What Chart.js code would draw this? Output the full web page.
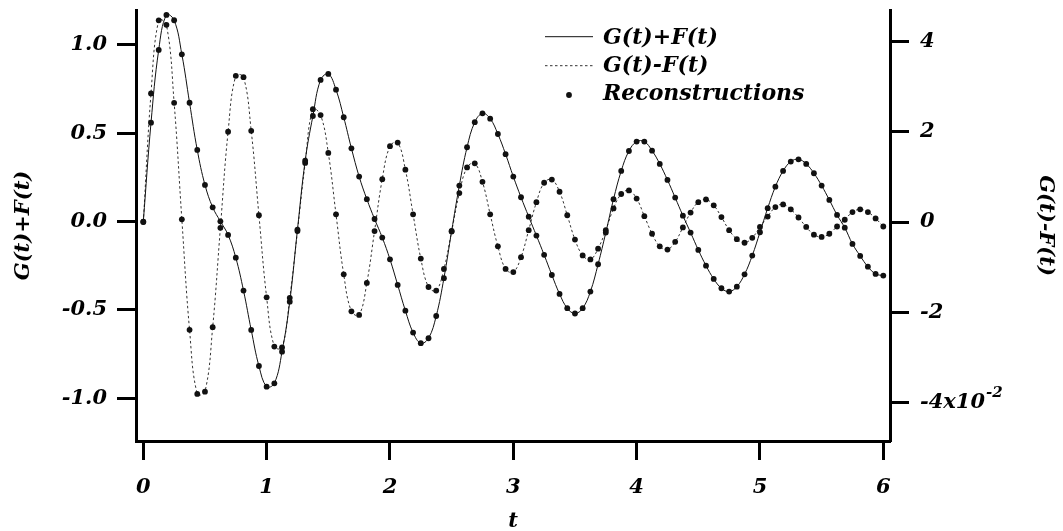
<!DOCTYPE html>
<html>
<head>
<meta charset="utf-8">
<script src="https://cdn.jsdelivr.net/npm/chart.js@4.4.0/dist/chart.umd.min.js"></script>
<style>
  html, body { margin: 0; padding: 0; background: #fff; }
</style>
</head>
<body>
<canvas id="grafico" width="1063" height="531"></canvas>
<script>
// tempos de amostragem (t)
const tempos = [
  0, 0.0625, 0.125, 0.1875, 0.25, 0.3125, 0.375, 0.4375,
  0.5, 0.5625, 0.625, 0.6875, 0.75, 0.8125, 0.875, 0.9375,
  1, 1.0625, 1.125, 1.1875, 1.25, 1.3125, 1.375, 1.4375,
  1.5, 1.5625, 1.625, 1.6875, 1.75, 1.8125, 1.875, 1.9375,
  2, 2.0625, 2.125, 2.1875, 2.25, 2.3125, 2.375, 2.4375,
  2.5, 2.5625, 2.625, 2.6875, 2.75, 2.8125, 2.875, 2.9375,
  3, 3.0625, 3.125, 3.1875, 3.25, 3.3125, 3.375, 3.4375,
  3.5, 3.5625, 3.625, 3.6875, 3.75, 3.8125, 3.875, 3.9375,
  4, 4.0625, 4.125, 4.1875, 4.25, 4.3125, 4.375, 4.4375,
  4.5, 4.5625, 4.625, 4.6875, 4.75, 4.8125, 4.875, 4.9375,
  5, 5.0625, 5.125, 5.1875, 5.25, 5.3125, 5.375, 5.4375,
  5.5, 5.5625, 5.625, 5.6875, 5.75, 5.8125, 5.875, 5.9375,
  6
];

// G(t)+F(t) (eixo esquerdo)
const somaGF = [
  0, 0.56, 0.972, 1.17, 1.14, 0.947, 0.673, 0.406,
  0.208, 0.081, 0.002, -0.075, -0.204, -0.390, -0.613, -0.817,
  -0.934, -0.915, -0.736, -0.453, -0.045, 0.345, 0.598, 0.802,
  0.836, 0.747, 0.591, 0.415, 0.255, 0.127, 0.015, -0.090,
  -0.213, -0.358, -0.504, -0.628, -0.688, -0.660, -0.534, -0.320,
  -0.053, 0.204, 0.421, 0.563, 0.613, 0.583, 0.496, 0.382,
  0.255, 0.138, 0.028, -0.079, -0.188, -0.302, -0.409, -0.490,
  -0.520, -0.490, -0.396, -0.241, -0.062, 0.127, 0.287, 0.400,
  0.453, 0.453, 0.402, 0.327, 0.236, 0.136, 0.034, -0.062,
  -0.160, -0.249, -0.324, -0.377, -0.396, -0.368, -0.298, -0.192,
  -0.060, 0.076, 0.198, 0.287, 0.340, 0.353, 0.327, 0.274,
  0.204, 0.123, 0.038, -0.034, -0.126, -0.194, -0.255, -0.296,
  -0.305
];

// G(t)-F(t) (eixo direito)
const difGF = [
  0, 0.0285, 0.0447, 0.0437, 0.0264, 0.0006, -0.0239, -0.0381,
  -0.0376, -0.0233, -0.0013, 0.0200, 0.0324, 0.0321, 0.0202, 0.0015,
  -0.0167, -0.0276, -0.0278, -0.0168, -0.0020, 0.0131, 0.0250, 0.0237,
  0.0153, 0.0017, -0.0116, -0.0198, -0.0206, -0.0135, -0.0020, 0.0095,
  0.0168, 0.0176, 0.0116, 0.0017, -0.0081, -0.0144, -0.0152, -0.0104,
  -0.0021, 0.0064, 0.0121, 0.0130, 0.0089, 0.0017, -0.0054, -0.0104,
  -0.0111, -0.0078, -0.0018, 0.0044, 0.0087, 0.0094, 0.0067, 0.0015,
  -0.0039, -0.0074, -0.0083, -0.0059, -0.0018, 0.0030, 0.0062, 0.0070,
  0.0052, 0.0013, -0.0026, -0.0054, -0.0061, -0.0044, -0.0012, 0.0021,
  0.0044, 0.0050, 0.0037, 0.0011, -0.0018, -0.0038, -0.0046, -0.0035,
  -0.0011, 0.0012, 0.0033, 0.0039, 0.0028, 0.0010, -0.0011, -0.0028,
  -0.0033, -0.0026, -0.0010, 0.0005, 0.0022, 0.0028, 0.0022, 0.0008,
  -0.0010
];

const ticksT = [0, 1, 2, 3, 4, 5, 6];
const ticksSoma = [-1, -0.5, 0, 0.5, 1];
const ticksDif = [-0.04, -0.02, 0, 0.02, 0.04];
const rotulosDif = ['-4x10', '-2', '0', '2', '4'];
const expoenteDif = '-2';
const nomes = ['G(t)+F(t)', 'G(t)-F(t)', 'Reconstructions'];

const pontos = (ys) => tempos.map((t, i) => ({x: t, y: ys[i]}));

const familia = "'DejaVu Serif', serif";
const fonte = (size) => ({ family: familia, style: 'italic', weight: 'bold', size: size });

const eixo = {
    border: { display: true, color: '#000', width: 3 },
    grid: { display: true, drawOnChartArea: false, drawTicks: true, tickLength: 19, tickWidth: 3, tickColor: '#000' }
};

// sem folga extra em volta dos eixos
const semFolga = (s) => { s.paddingTop = 0; s.paddingBottom = 0; s.paddingLeft = 0; s.paddingRight = 0; };

// legenda desenhada dentro da area do grafico + expoente do eixo direito
const legenda = {
    id: 'legenda',
    afterDraw(chart) {
        const c = chart.ctx;
        const a = chart.chartArea;
        const x0 = a.left + 409;
        const xt = a.left + 467;
        const linhas = [a.top + 26.7, a.top + 55.7, a.top + 85];
        const bases = [a.top + 33.5, a.top + 61.7, a.top + 90];
        c.save();
        c.strokeStyle = '#111';
        c.lineWidth = 1;
        c.beginPath(); c.moveTo(x0, linhas[0]); c.lineTo(x0 + 48, linhas[0]); c.stroke();
        c.strokeStyle = '#333';
        c.setLineDash([2.5, 2.5]);
        c.beginPath(); c.moveTo(x0, linhas[1]); c.lineTo(x0 + 48, linhas[1]); c.stroke();
        c.setLineDash([]);
        c.fillStyle = '#111';
        c.beginPath(); c.arc(x0 + 24, linhas[2], 2.9, 0, Math.PI * 2); c.fill();
        c.font = "italic bold 22px " + familia;
        c.textBaseline = 'alphabetic';
        c.textAlign = 'left';
        c.fillStyle = '#000';
        nomes.forEach((n, i) => c.fillText(n, xt, bases[i]));

        // expoente "-2" ao lado de "-4x10"
        const s = chart.scales.y2;
        c.font = "italic bold 21px " + familia;
        const w = c.measureText(rotulosDif[0]).width;
        const xe = s.left + 19 + 11 + w + 1;
        const ye = s.getPixelForValue(ticksDif[0]) - 6;
        c.font = "italic bold 15px " + familia;
        c.fillText(expoenteDif, xe, ye);
        c.restore();
    }
};

const ctx = document.getElementById('grafico');

new Chart(ctx, {
    type: 'line',
    data: {
        datasets: [
            { label: nomes[2], data: pontos(somaGF), yAxisID: 'y', showLine: false, pointRadius: 2.9,
              pointBackgroundColor: '#111', pointBorderWidth: 0, order: 0 },
            { label: nomes[2], data: pontos(difGF), yAxisID: 'y2', showLine: false, pointRadius: 2.9,
              pointBackgroundColor: '#111', pointBorderWidth: 0, order: 0 },
            { label: nomes[0], data: pontos(somaGF), yAxisID: 'y', borderColor: '#111', borderWidth: 1,
              pointRadius: 0, tension: 0.4, fill: false, order: 1 },
            { label: nomes[1], data: pontos(difGF), yAxisID: 'y2', borderColor: '#333', borderWidth: 1,
              borderDash: [2.5, 2.5], pointRadius: 0, tension: 0.4, fill: false, order: 1 }
        ]
    },
    options: {
        responsive: false,
        animation: false,
        layout: { padding: { top: 10, left: 0, right: 0, bottom: 0 } },
        plugins: { legend: { display: false }, tooltip: { enabled: false } },
        scales: {
            x: {
                type: 'linear', position: 'bottom', min: -0.0592, max: 6.0543,
                ...eixo,
                afterBuildTicks: (s) => { s.ticks = ticksT.map(v => ({value: v})); },
                afterFit: (s) => { s.height = 90; semFolga(s); },
                ticks: { autoSkip: false, maxRotation: 0, padding: 15, color: '#000', font: fonte(21),
                         callback: (v) => String(v) },
                title: { display: true, text: 't', color: '#000', font: fonte(21), padding: { top: 0, bottom: -3 } }
            },
            y: {
                type: 'linear', position: 'left', min: -1.2416, max: 1.198,
                ...eixo,
                afterBuildTicks: (s) => { s.ticks = ticksSoma.map(v => ({value: v})); },
                afterFit: (s) => { s.width = 136; semFolga(s); },
                ticks: { autoSkip: false, padding: 10, color: '#000', font: fonte(21),
                         callback: (v) => v.toFixed(1) },
                title: { display: true, text: 'G(t)+F(t)', color: '#000', font: fonte(21), padding: { top: 11, bottom: 0 } }
            },
            y2: {
                type: 'linear', position: 'right', min: -0.04853, max: 0.04698,
                ...eixo,
                afterBuildTicks: (s) => { s.ticks = ticksDif.map(v => ({value: v})); },
                afterFit: (s) => { s.width = 173; semFolga(s); },
                ticks: { autoSkip: false, padding: 11, color: '#000', font: fonte(21),
                         callback: (v, i) => rotulosDif[i] },
                title: { display: true, text: 'G(t)-F(t)', color: '#000', font: fonte(21), padding: { top: 5, bottom: 0 } }
            }
        }
    },
    plugins: [legenda]
});
</script>
</body>
</html>
